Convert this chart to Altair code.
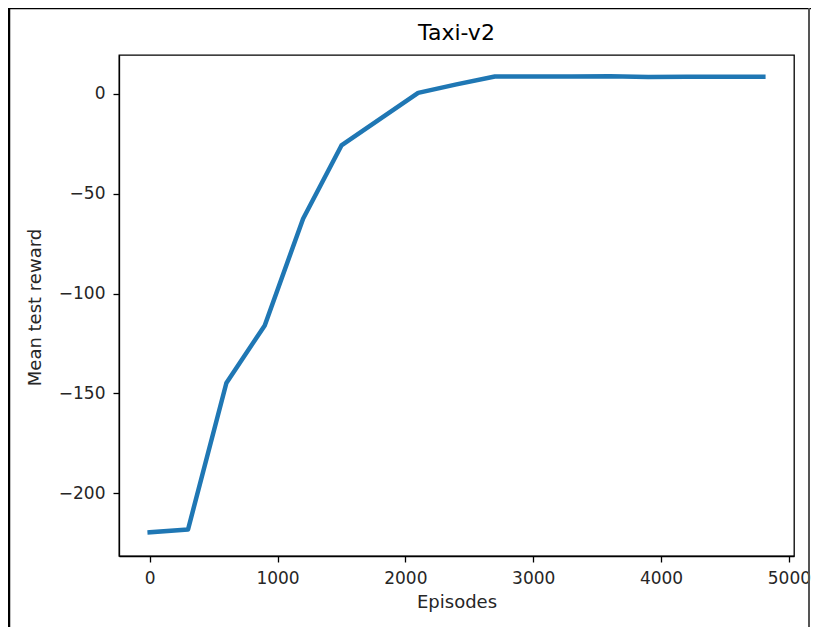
import altair as alt
import pandas as pd

episodes = [0, 300, 600, 900, 1200, 1500, 1800, 2100, 2400, 2700, 3000, 3300, 3600, 3900, 4200, 4500, 4800]
mean_reward = [-219.6, -218.2, -144.8, -116.0, -62.5, -25.8, -12.6, 0.5, 4.8, 8.7, 8.7, 8.7, 8.9, 8.5, 8.6, 8.6, 8.6]
x_ticks = [0, 1000, 2000, 3000, 4000, 5000]
y_ticks = [-200, -150, -100, -50, 0]

df = pd.DataFrame({"Episodes": episodes, "Mean test reward": mean_reward})

FONT = "DejaVu Sans"

line = alt.Chart(df).mark_line(color="#1f77b4", strokeWidth=4.5, strokeCap="square", strokeJoin="round").encode(
    x=alt.X("Episodes:Q",
            scale=alt.Scale(domain=[-240, 5040], nice=False, zero=False),
            axis=alt.Axis(values=x_ticks, title="Episodes", grid=False, format="d",
                          tickSize=6, labelPadding=8, titlePadding=7)),
    y=alt.Y("Mean test reward:Q",
            scale=alt.Scale(domain=[-231.5, 19.5], nice=False, zero=False),
            axis=alt.Axis(values=y_ticks, title="Mean test reward", grid=False, format="d",
                          tickSize=6, labelPadding=8, titleX=-84, titleY=252,
                          titleAngle=-90, titleAlign="center", titleBaseline="middle")),
)

frame_data = alt.Data(values=[{}])
left_frame = alt.Chart(frame_data).mark_rule(color="black", strokeWidth=2.5).encode(
    x=alt.value(-110), y=alt.value(-48), y2=alt.value(575))
top_frame = alt.Chart(frame_data).mark_rule(color="black", strokeWidth=2.5).encode(
    x=alt.value(-111), x2=alt.value(700), y=alt.value(-47))
right_frame = alt.Chart(frame_data).mark_rule(color="#555555", strokeWidth=2).encode(
    x=alt.value(690), y=alt.value(-48), y2=alt.value(575))

chart = alt.layer(line, left_frame, top_frame, right_frame).properties(
    width=675, height=501,
    title=alt.TitleParams("Taxi-v2", fontSize=22, font=FONT, fontWeight="normal", color="black",
                          anchor="middle", offset=14, dy=53, frame="group"),
    autosize=alt.AutoSizeParams(type="none"),
    padding={"left": 111, "top": 47, "right": 17, "bottom": 71},
).configure_view(
    stroke="black", strokeWidth=1.3
).configure_axis(
    labelFont=FONT, titleFont=FONT, labelFontSize=17, titleFontSize=18,
    labelColor="#262626", titleColor="#262626", titleFontWeight="normal",
    domainColor="black", tickColor="black", domainWidth=1.3, tickWidth=1.3,
)

chart.save("out.html", embed_options={"renderer": "svg", "actions": False})
